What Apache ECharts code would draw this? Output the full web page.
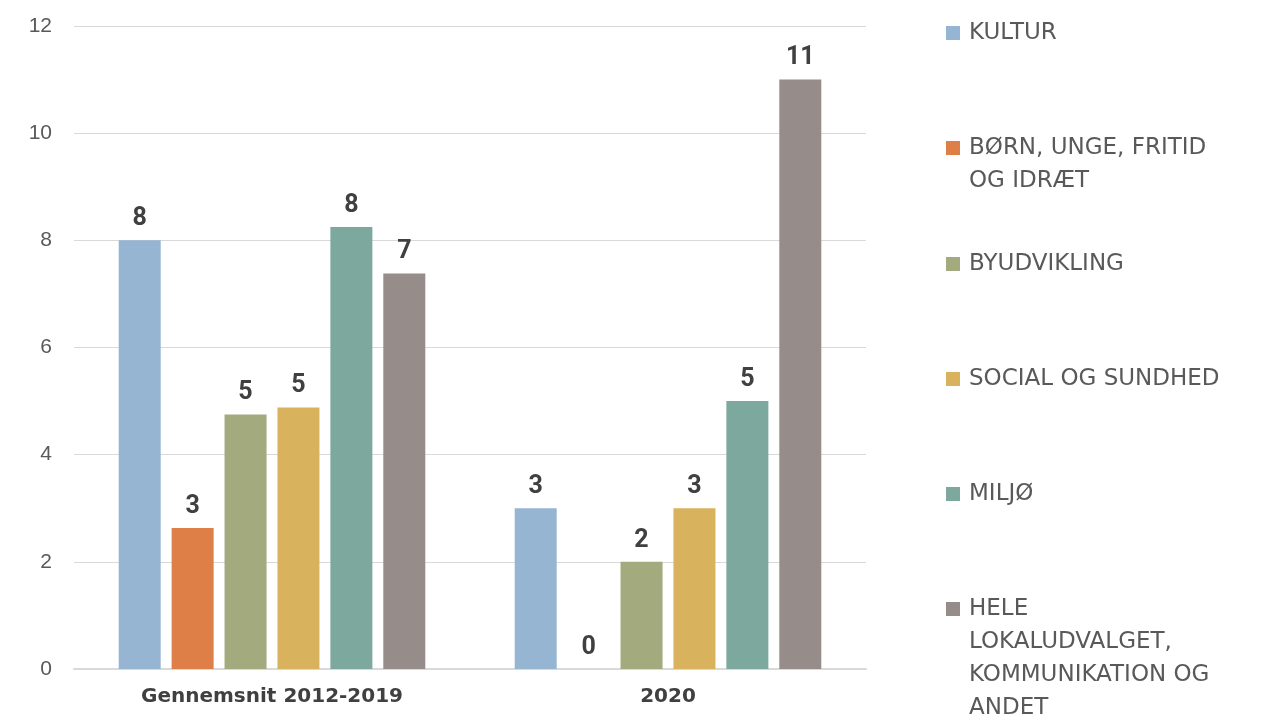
<!DOCTYPE html>
<html>
<head>
<meta charset="utf-8">
<script src="https://cdn.jsdelivr.net/npm/echarts@6/dist/echarts.min.js"></script>
<style>
  html, body { margin: 0; padding: 0; background: #fff; }
  #chart { width: 1283px; height: 720px; }
</style>
</head>
<body>
<div id="chart"></div>
<script>
// categories + series
let categories = ['Gennemsnit 2012-2019', '2020'];
let seriesNames = [
    'KULTUR',
    'BØRN, UNGE, FRITID\nOG IDRÆT',
    'BYUDVIKLING',
    'SOCIAL OG SUNDHED',
    'MILJØ',
    'HELE\nLOKALUDVALGET,\nKOMMUNIKATION OG\nANDET'
];
let kultur = [8, 3];
let born = [2.63, 0];
let byudvikling = [4.75, 2];
let social = [4.88, 3];
let miljo = [8.25, 5];
let hele = [7.38, 11];
let colors = ['#95b5d3', '#dd7f47', '#a3aa7e', '#d8b25c', '#7da89d', '#968c8a'];
let legendTops = [11.5, 126.5, 242.5, 357.5, 472.5, 587.5];
let lineH = 33;

let allValues = [kultur, born, byudvikling, social, miljo, hele];

let series = allValues.map((vals, i) => ({
    name: seriesNames[i],
    type: 'bar',
    data: vals,
    barWidth: 42,
    barGap: '26%',
    itemStyle: { color: colors[i] },
    label: {
        show: true,
        position: 'top',
        distance: 9,
        formatter: (p) => Math.round(p.value),
        fontFamily: 'Roboto',
        fontWeight: 'bold',
        fontSize: 25,
        color: '#404040'
    }
}));

// square sitting on the first text line, slivers stretch the box to full height
function iconFor(lines) {
    let h = lines * lineH;
    let y0 = lineH / 2 - 7;
    return 'path://M0,0L14,0L14,0.01L0,0.01Z M0,' + y0 + 'L14,' + y0 + 'L14,' + (y0 + 14) + 'L0,' + (y0 + 14) + 'Z M0,' + (h - 0.01) + 'L14,' + (h - 0.01) + 'L14,' + h + 'L0,' + h + 'Z';
}

// one legend per item so the multi-line names sit where they should
let legends = seriesNames.map((n, i) => {
    let lines = n.split('\n').length;
    return {
        data: [n],
        left: 941,
        top: legendTops[i],
        orient: 'vertical',
        itemWidth: 14,
        itemHeight: lines * lineH,
        icon: iconFor(lines),
        itemGap: 0,
        selectedMode: false,
        textStyle: {
            fontFamily: 'DejaVu Sans',
            fontSize: 23,
            lineHeight: lineH,
            color: '#595959',
            padding: [0, 0, 0, 4]
        }
    };
});

let option = {
    animation: false,
    color: colors,
    legend: legends,
    grid: { left: 74, right: 417, top: 26, bottom: 51, containLabel: false },
    xAxis: {
        type: 'category',
        data: categories,
        axisTick: { show: false },
        axisLine: { lineStyle: { color: '#d9d9d9', width: 2 } },
        axisLabel: {
            margin: 18,
            fontFamily: 'DejaVu Sans',
            fontWeight: 'bold',
            fontSize: 20,
            color: '#404040'
        }
    },
    yAxis: {
        type: 'value',
        min: 0,
        max: 12,
        interval: 2,
        axisLine: { show: false },
        axisTick: { show: false },
        splitLine: { lineStyle: { color: '#d9d9d9', width: 1 } },
        axisLabel: {
            margin: 22,
            fontFamily: 'Liberation Sans',
            fontSize: 21,
            color: '#595959'
        }
    },
    series: series
};

let myChart = echarts.init(document.querySelector('#chart'));
myChart.setOption(option);
</script>
</body>
</html>
